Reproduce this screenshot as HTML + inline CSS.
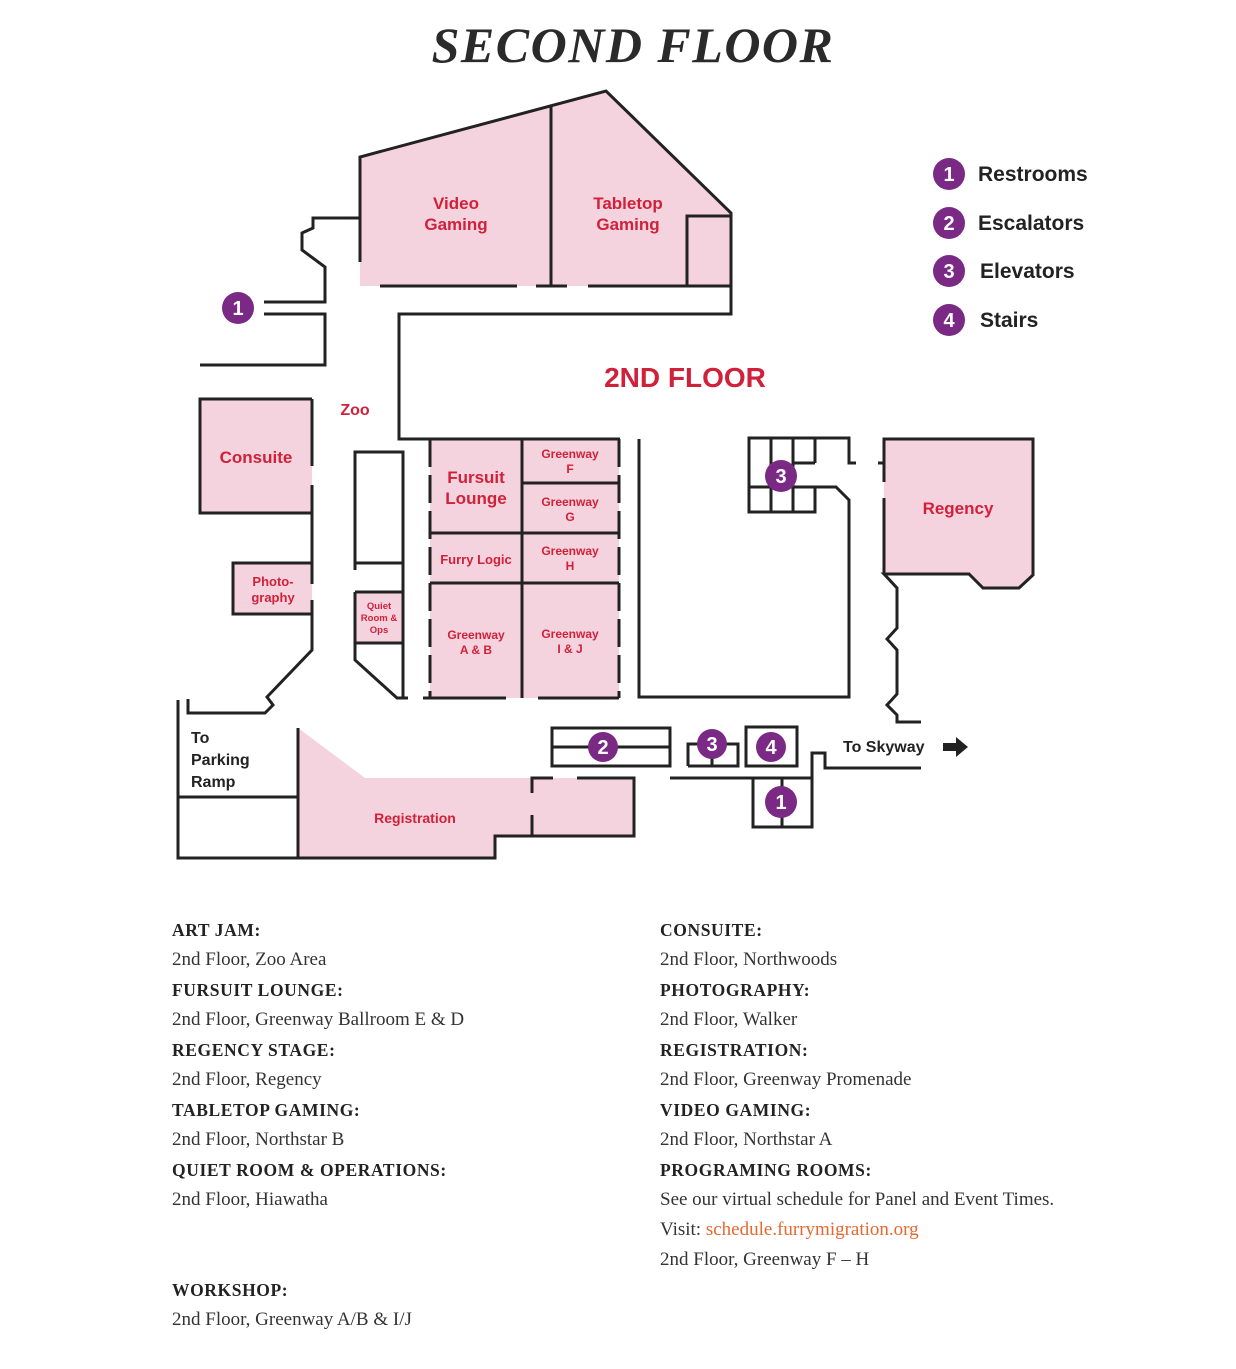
<!DOCTYPE html>
<html><head><meta charset="utf-8"><style>
html,body{margin:0;padding:0;background:#fff;}
body{width:1236px;height:1369px;position:relative;overflow:hidden;}
svg{position:absolute;left:0;top:0;}
.t{font-family:"Liberation Sans",sans-serif;font-weight:bold;fill:#d0213a;text-anchor:middle;}
.k{font-family:"Liberation Sans",sans-serif;font-weight:bold;fill:#222;}
.n{font-family:"Liberation Sans",sans-serif;font-weight:bold;fill:#fff;text-anchor:middle;font-size:20px;}
.info{position:absolute;font-family:"Liberation Serif",serif;font-size:19px;color:#333;}
.info div{height:30px;line-height:30px;white-space:nowrap;}
.info b{font-size:17.5px;letter-spacing:0.6px;color:#222;}
.info a{color:#e8672f;text-decoration:none;}
</style></head><body>
<svg width="1236" height="1369" viewBox="0 0 1236 1369">
<text x="633" y="62" text-anchor="middle" font-family="Liberation Serif,serif" font-weight="bold" font-style="italic" font-size="50" letter-spacing="1.5" fill="#2a2a2a">SECOND FLOOR</text>
<g fill="#f5d3de" stroke="none">
<polygon points="360,157 606,91 731,213 731,286 360,286"/>
<rect x="200" y="399" width="112" height="114"/>
<rect x="233" y="563" width="79" height="51"/>
<rect x="355" y="592" width="48" height="51"/>
<rect x="430" y="439" width="189" height="259"/>
<polygon points="884,439 1033,439 1033,575 1019,588 983,588 969,574 884,574"/>
<polygon points="298,728 365,778 634,778 634,836 495,836 495,858 298,858"/>
</g>
<g fill="none" stroke="#222" stroke-width="3" stroke-linejoin="miter">
<polyline points="360,262 360,157 606,91 731,213 731,314 399,314 399,439 620,439"/>
<line x1="551" y1="106" x2="551" y2="286"/>
<polyline points="687,286 687,216 731,216"/>
<line x1="380" y1="286" x2="517" y2="286"/><line x1="536" y1="286" x2="567" y2="286"/><line x1="588" y1="286" x2="731" y2="286"/>
<polyline points="360,218 313,218 313,228 302,233 302,250 325,267 325,302 264,302"/>
<polyline points="264,314 325,314 325,365 200,365"/>
<polyline points="312,399 200,399 200,513 312,513"/>
<line x1="312" y1="399" x2="312" y2="466"/><line x1="312" y1="485" x2="312" y2="584"/>
<polyline points="312,600 312,650 267,697 273,705 265,713 188,713 188,699"/>
<polyline points="312,563 233,563 233,614 312,614"/>
<polyline points="178,700 178,858 495,858 495,836 634,836 634,778 577,778"/>
<line x1="298" y1="728" x2="298" y2="858"/><line x1="178" y1="797" x2="298" y2="797"/>
<polyline points="553,778 532,778 532,793"/><line x1="532" y1="815" x2="532" y2="836"/>
<polyline points="355,570 355,452 403,452 403,698"/>
<line x1="355" y1="563" x2="403" y2="563"/>
<polyline points="355,592 355,660 397,698 408,698"/>
<line x1="355" y1="592" x2="403" y2="592"/><line x1="355" y1="643" x2="403" y2="643"/>
<line x1="522" y1="439" x2="522" y2="698"/>
<line x1="522" y1="483" x2="619" y2="483"/><line x1="430" y1="533" x2="619" y2="533"/><line x1="430" y1="583" x2="619" y2="583"/>
<line x1="423" y1="698" x2="506" y2="698"/><line x1="538" y1="698" x2="619" y2="698"/>
<g stroke-dasharray="28,8"><line x1="430" y1="439" x2="430" y2="698"/><line x1="619" y1="439" x2="619" y2="698"/></g>
<polyline points="639,439 639,697 849,697 849,500 836,487 749,487"/>
<polyline points="856,463 849,463 849,438 749,438 749,512 815,512 815,487"/>
<line x1="771" y1="438" x2="771" y2="512"/><line x1="793" y1="438" x2="793" y2="512"/><line x1="815" y1="438" x2="815" y2="463"/>
<line x1="793" y1="463" x2="815" y2="463"/>
<polyline points="884,482 884,439 1033,439 1033,575 1019,588 983,588 969,574 884,574 897,588 897,628 887,639 897,650 897,694 887,705 897,715 897,722 921,722"/>
<line x1="884" y1="498" x2="884" y2="574"/><line x1="878" y1="463" x2="884" y2="463"/>
<rect x="552" y="728" width="118" height="38"/><line x1="552" y1="747" x2="670" y2="747"/>
<polyline points="688,766 688,744 738,744 738,766 688,766"/><line x1="712" y1="747" x2="712" y2="766"/>
<rect x="746" y="727" width="51" height="39"/>
<polyline points="670,778 812,778 812,753 825,753 825,768 921,768"/>
<polyline points="753,778 753,827 812,827 812,778"/><line x1="782" y1="778" x2="782" y2="827"/>
</g>
<polygon points="943,743 956,743 956,737 968,747 956,757 956,751 943,751" fill="#222"/>
<g fill="#7a2a84">
<circle cx="238" cy="308" r="16"/><circle cx="603" cy="747" r="15"/><circle cx="781" cy="476" r="16"/>
<circle cx="712" cy="744" r="15"/><circle cx="771" cy="747" r="15"/><circle cx="781" cy="802" r="16"/>
<circle cx="949" cy="174" r="16"/><circle cx="949" cy="223" r="16"/><circle cx="949" cy="271" r="16"/><circle cx="949" cy="320" r="16"/>
</g>
<g class="n">
<text x="238" y="315">1</text><text x="603" y="754">2</text><text x="781" y="483">3</text>
<text x="712" y="751">3</text><text x="771" y="754">4</text><text x="781" y="809">1</text>
<text x="949" y="181">1</text><text x="949" y="230">2</text><text x="949" y="278">3</text><text x="949" y="327">4</text>
</g>
<g class="k" font-size="21">
<text x="978" y="181">Restrooms</text><text x="978" y="230">Escalators</text><text x="980" y="278">Elevators</text><text x="980" y="327">Stairs</text>
</g>
<g class="k" font-size="16"><text x="843" y="752">To Skyway</text>
<text x="191" y="743">To</text><text x="191" y="765">Parking</text><text x="191" y="787">Ramp</text></g>
<text class="t" x="685" y="387" font-size="28">2ND FLOOR</text>
<g class="t" font-size="17">
<text x="456" y="209">Video</text><text x="456" y="230">Gaming</text>
<text x="628" y="209">Tabletop</text><text x="628" y="230">Gaming</text>
<text x="256" y="463">Consuite</text>
<text x="476" y="483">Fursuit</text><text x="476" y="504">Lounge</text>
<text x="958" y="514">Regency</text>
</g>
<text class="t" x="355" y="415" font-size="16">Zoo</text>
<g class="t" font-size="12">
<text x="570" y="458">Greenway</text><text x="570" y="473">F</text>
<text x="570" y="506">Greenway</text><text x="570" y="521">G</text>
<text x="570" y="555">Greenway</text><text x="570" y="570">H</text>
<text x="476" y="639">Greenway</text><text x="476" y="654">A &amp; B</text>
<text x="570" y="638">Greenway</text><text x="570" y="653">I &amp; J</text>
</g>
<g class="t" font-size="13">
<text x="476" y="564">Furry Logic</text>
<text x="273" y="586">Photo-</text><text x="273" y="602">graphy</text>
<text x="415" y="823" font-size="14">Registration</text>
</g>
<g class="t" font-size="9.5">
<text x="379" y="609">Quiet</text><text x="379" y="621">Room &amp;</text><text x="379" y="633">Ops</text>
</g>
</svg>
<div class="info" style="left:172px;top:915px;">
<div><b>ART JAM:</b></div><div>2nd Floor, Zoo Area</div><div><b>FURSUIT LOUNGE:</b></div><div>2nd Floor, Greenway Ballroom E &amp; D</div><div><b>REGENCY STAGE:</b></div><div>2nd Floor, Regency</div><div><b>TABLETOP GAMING:</b></div><div>2nd Floor, Northstar B</div><div><b>QUIET ROOM &amp; OPERATIONS:</b></div><div>2nd Floor, Hiawatha</div><div></div><div></div><div><b>WORKSHOP:</b></div><div>2nd Floor, Greenway A/B &amp; I/J</div>
</div>
<div class="info" style="left:660px;top:915px;">
<div><b>CONSUITE:</b></div><div>2nd Floor, Northwoods</div><div><b>PHOTOGRAPHY:</b></div><div>2nd Floor, Walker</div><div><b>REGISTRATION:</b></div><div>2nd Floor, Greenway Promenade</div><div><b>VIDEO GAMING:</b></div><div>2nd Floor, Northstar A</div><div><b>PROGRAMING ROOMS:</b></div><div>See our virtual schedule for Panel and Event Times.</div><div>Visit: <a>schedule.furrymigration.org</a></div><div>2nd Floor, Greenway F – H</div>
</div>
</body></html>
